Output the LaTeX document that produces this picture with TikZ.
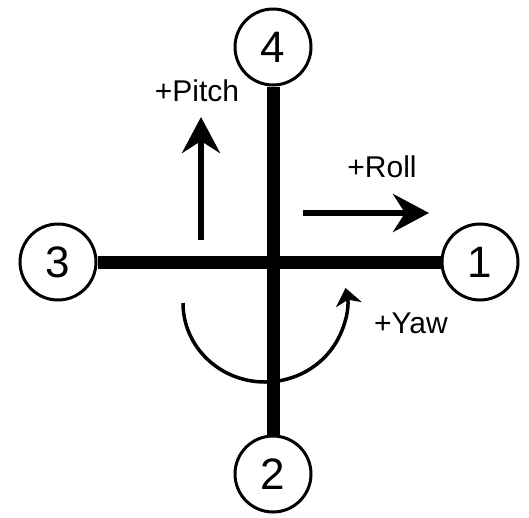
\documentclass[tikz,border=0pt]{standalone}
\usepackage{fontspec}
\setmainfont{Liberation Sans}
\usetikzlibrary{arrows.meta}
\begin{document}
\begin{tikzpicture}[x=1pt,y=-1pt,
  motor/.style={circle,draw,line width=3pt,minimum size=76pt,inner sep=0pt,
    fill=white,font=\fontsize{44}{44}\selectfont},
  arm/.style={line width=13pt},
  axisarrow/.style={line width=6.5pt,-{Stealth[length=36pt,width=38pt,inset=12pt]}},
  yawarrow/.style={line width=3.5pt,-{Stealth[length=17pt,width=26pt,inset=5pt]}},
  lbl/.style={font=\fontsize{30}{30}\selectfont}]
\useasboundingbox (0,0) rectangle (529,517);

% motors
\node[motor] (m4) at (273,47)  {4};
\node[motor] (m3) at (58,262)  {3};
\node[motor] (m1) at (480,262) {1};
\node[motor] (m2) at (273,474) {2};

% frame arms
\draw[arm] (m4) -- (m2);
\draw[arm] (m3) -- (m1);

% pitch
\coordinate (pitchtail) at (201,240);
\coordinate (pitchtip)  at (201,117);
\draw[axisarrow] (pitchtail) -- (pitchtip);
\node[lbl] (pitchlbl) at (197,91) {+Pitch};

% roll
\coordinate (rolltail) at (303,213);
\coordinate (rolltip)  at (429,213);
\draw[axisarrow] (rolltail) -- (rolltip);
\node[lbl] (rolllbl) at (382,167) {+Roll};

% yaw
\coordinate (yawstart) at (183,303);
\draw[yawarrow] (yawstart) arc[start angle=180,end angle=-11,x radius=82,y radius=79];
\node[lbl] (yawlbl) at (411,323) {+Yaw};
\end{tikzpicture}
\end{document}
